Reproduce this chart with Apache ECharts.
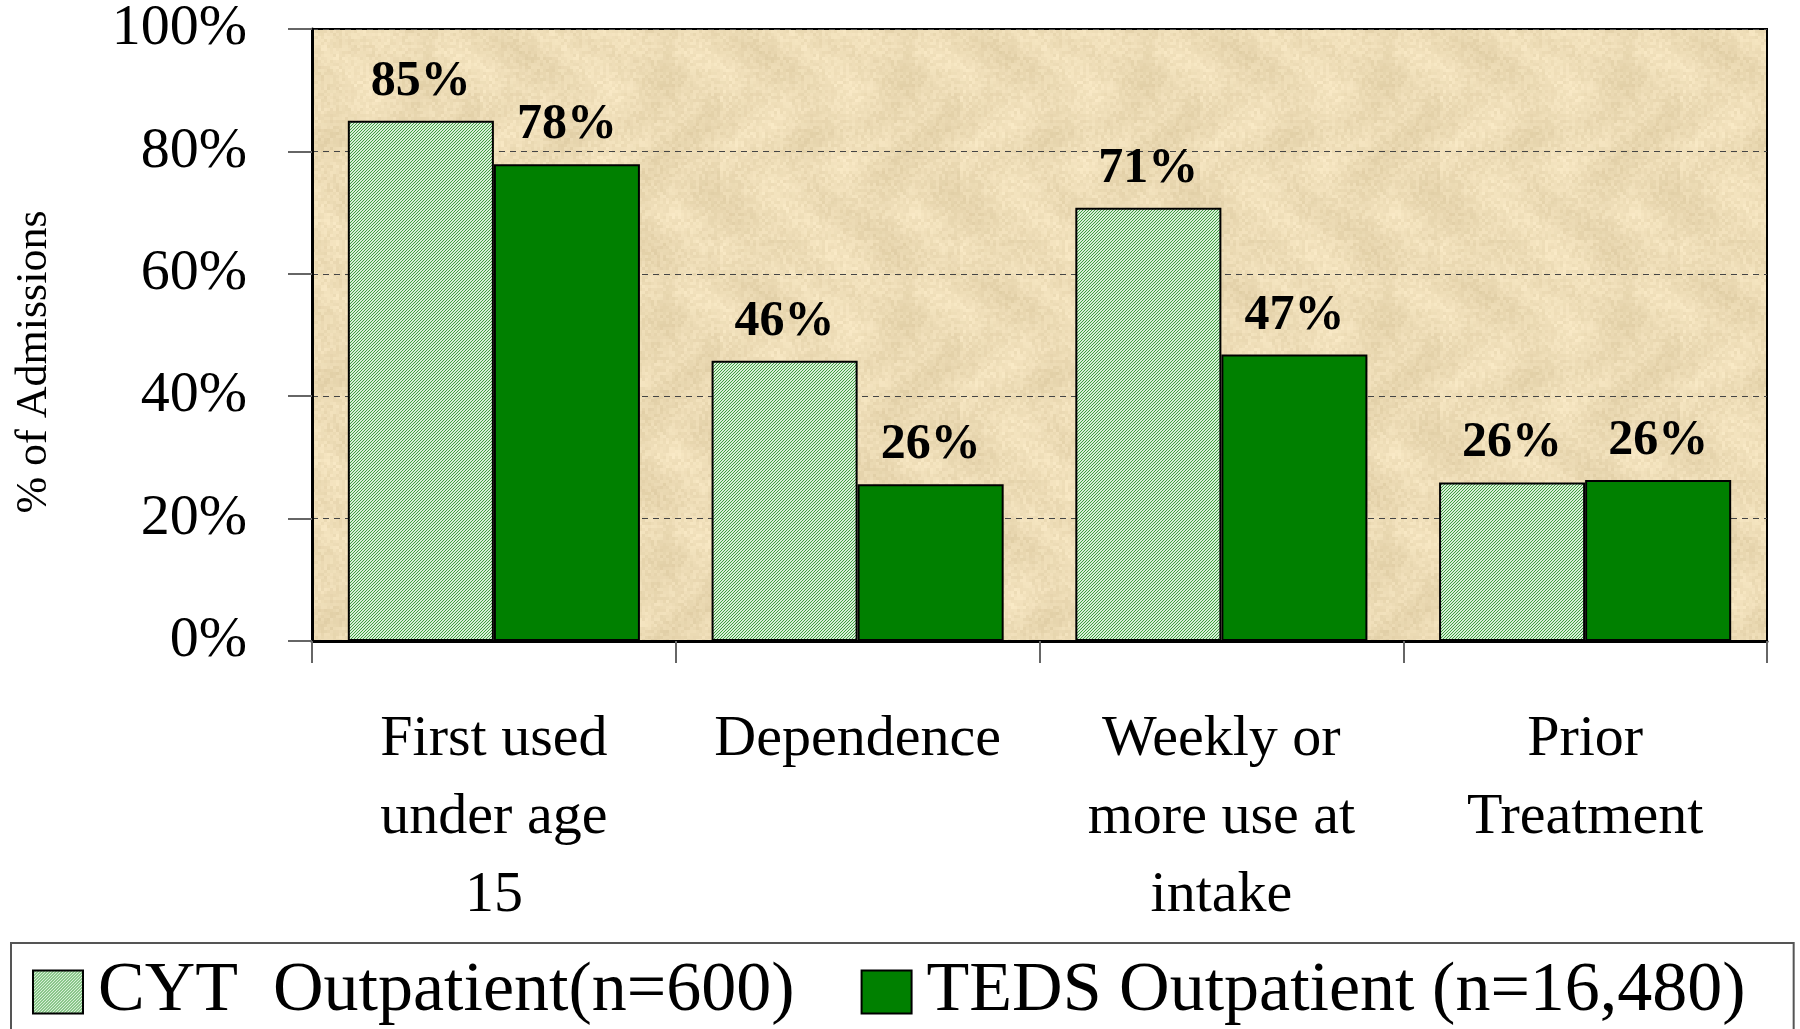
<!DOCTYPE html>
<html>
<head>
<meta charset="utf-8">
<script src="https://cdn.jsdelivr.net/npm/echarts@6/dist/echarts.min.js"></script>
<style>
  html, body { margin: 0; padding: 0; background: #fff; }
  #main { width: 1800px; height: 1029px; }
</style>
</head>
<body>
<div id="main"></div>
<script>
// 数据
const categories = ['First used\nunder age\n15', 'Dependence', 'Weekly or\nmore use at\nintake', 'Prior\nTreatment'];
const cytValues = [85, 45.8, 70.8, 25.9];
const tedsValues = [77.9, 25.6, 46.8, 26.3];
const seriesNames = ['CYT  Outpatient(n=600)', 'TEDS Outpatient (n=16,480)'];
const yTicks = [0, 20, 40, 60, 80, 100];

const serif = "'Times New Roman', 'Liberation Serif', serif";

// 浅绿色斜纹填充
function hatchPattern() {
    const c = document.createElement('canvas');
    c.width = c.height = 3;
    const g = c.getContext('2d');
    g.fillStyle = '#d8efd8';
    g.fillRect(0, 0, 3, 3);
    g.fillStyle = '#3f9f3f';
    for (let x = 0; x < 3; x++) {
        for (let y = 0; y < 3; y++) {
            if ((x + y) % 3 === 2) g.fillRect(x, y, 1, 1);
        }
    }
    return c;
}

// 羊皮纸背景纹理
function paperPattern() {
    const c = document.createElement('canvas');
    c.width = c.height = 240;
    const g = c.getContext('2d');
    for (let x = 0; x < 240; x += 3) {
        for (let y = 0; y < 240; y += 3) {
            let h = Math.sin(x * 12.9898 + y * 78.233) * 43758.5453;
            h = h - Math.floor(h);
            const s = Math.sin(x / 19 + Math.cos(y / 29) * 2) * Math.cos(y / 23 + Math.sin(x / 31)) * 0.5 + 0.5;
            const v = (h - 0.5) * 12 + (s - 0.5) * 14;
            const r = Math.round(237 + v), gg = Math.round(220 + v * 1.1), b = Math.round(182 + v * 1.3);
            g.fillStyle = 'rgb(' + r + ',' + gg + ',' + b + ')';
            g.fillRect(x, y, 3, 3);
        }
    }
    return c;
}

const myChart = echarts.init(document.getElementById('main'));
const hatch = { image: hatchPattern(), repeat: 'repeat' };

const labelStyle = {
    show: true,
    position: 'top',
    distance: 14,
    fontFamily: serif,
    fontWeight: 'bold',
    fontSize: 50,
    color: '#000',
    formatter: p => Math.round(p.value) + '%'
};

const option = {
    animation: false,
    grid: {
        left: 312,
        right: 33,
        top: 29,
        height: 612,
        show: true,
        backgroundColor: { image: paperPattern(), repeat: 'repeat' },
        borderColor: '#000',
        borderWidth: 2
    },
    graphic: [{
        type: 'text',
        x: 34,
        y: 362,
        rotation: Math.PI / 2,
        style: {
            text: '% of Admissions',
            fontFamily: serif,
            fontSize: 44,
            fill: '#000',
            align: 'center',
            verticalAlign: 'middle'
        }
    }],
    legend: {
        left: 11,
        top: 943,
        orient: 'horizontal',
        padding: [14, 48, 80, 21],
        itemWidth: 50,
        itemHeight: 43,
        itemGap: 66,
        borderColor: '#555',
        borderWidth: 2,
        icon: 'rect',
        textStyle: {
            fontFamily: serif,
            fontSize: 70,
            color: '#000',
            padding: [0, 0, 0, 10]
        },
        data: seriesNames
    },
    xAxis: [{
        type: 'category',
        data: categories,
        axisLine: { show: true, lineStyle: { color: '#000', width: 3 } },
        axisTick: { show: true, length: 22, lineStyle: { color: '#666', width: 2 } },
        axisLabel: {
            interval: 0,
            margin: 60,
            fontFamily: serif,
            fontSize: 58,
            lineHeight: 78,
            color: '#000'
        },
        splitLine: { show: false }
    }],
    yAxis: [{
        type: 'value',
        min: yTicks[0],
        max: yTicks[yTicks.length - 1],
        interval: 20,
        axisLine: { show: true, lineStyle: { color: '#000', width: 3 } },
        axisTick: { show: true, inside: false, length: 24, lineStyle: { color: '#666', width: 2 } },
        axisLabel: {
            margin: 65,
            fontFamily: serif,
            fontSize: 58,
            color: '#000',
            formatter: '{value}%'
        },
        splitLine: {
            show: true,
            lineStyle: { color: '#444', type: [6, 5], width: 1 }
        }
    }],
    series: [
        {
            name: seriesNames[0],
            type: 'bar',
            barGap: '0%',
            barCategoryGap: '19.7%',
            itemStyle: { color: hatch, borderColor: '#000', borderWidth: 2 },
            label: labelStyle,
            data: cytValues
        },
        {
            name: seriesNames[1],
            type: 'bar',
            barGap: '0%',
            barCategoryGap: '19.7%',
            itemStyle: { color: '#008000', borderColor: '#000', borderWidth: 2 },
            label: labelStyle,
            data: tedsValues
        }
    ]
};

myChart.setOption(option);
</script>
</body>
</html>
